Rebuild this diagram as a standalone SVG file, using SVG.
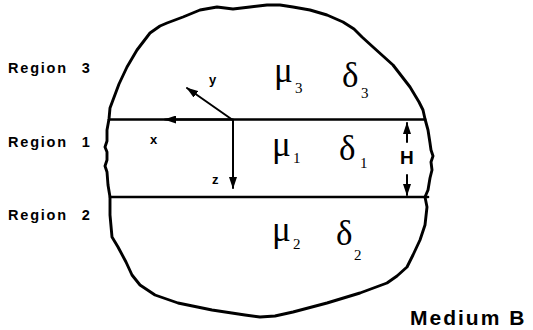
<svg xmlns="http://www.w3.org/2000/svg" width="533" height="330" viewBox="0 0 533 330">
<style>
.lbl{font-family:"Liberation Sans",Arial,sans-serif;font-weight:bold;fill:#000}
.reg{font-size:14.5px;letter-spacing:1.8px;word-spacing:8px}
.gk{font-family:"Liberation Serif","Times New Roman",serif;font-size:35px;fill:#000}
.sb{font-family:"Liberation Serif","Times New Roman",serif;font-size:15px;fill:#000}
.ln{fill:none;stroke:#000;stroke-linecap:round;stroke-linejoin:round}
</style>
<defs>
<marker id="ah" markerUnits="userSpaceOnUse" markerWidth="12" markerHeight="8" refX="11" refY="4" orient="auto">
<path d="M0,0 L12,4 L0,8 z" fill="#000"/>
</marker>
</defs>
<rect width="533" height="330" fill="#fff"/>
<g id="medium-outline">
<path class="ln" stroke-width="2.9" d="M109,119 L110,108 L113,100 L119,84 L127,67 L137,50 L150,33 L160,26 L167,23 L183,17 L200,10 L217,7 L233,9 L250,7 L267,5 L280,5 L293,7 L310,10 L327,15 L343,22 L354,29 L362,37 L373,47 L393,65 L410,87 L419,102 L423,110 L425,119 L428,130 L430,143 L431,150 L433,156 L431,162 L432,170 L430,178 L428,190 L425,197 L427,207 L425,225 L420,240 L413,255 L407,267 L397,276 L387,283 L360,293 L327,303 L293,312 L275,316 L260,317 L245,315 L212,310 L178,303 L155,295 L140,285 L132,275 L126,262 L118,247 L112,237 L110,215 L110,197 L108,185 L107,172 L105,166 L107,160 L107,152 L105,147 L107,141 L107,130 L109,119 Z"/>
<line class="ln" stroke-width="2.7" x1="109" y1="119.5" x2="425" y2="119.5"/>
<line class="ln" stroke-width="2.7" x1="110" y1="197" x2="428" y2="197"/>
</g>
<g id="connectors">
<line class="ln" stroke-width="2" x1="232" y1="119.5" x2="165" y2="119.5" marker-end="url(#ah)"/>
<line class="ln" stroke-width="2" x1="232" y1="119.5" x2="187" y2="88" marker-end="url(#ah)"/>
<line class="ln" stroke-width="2" x1="233" y1="119.5" x2="233" y2="188" marker-end="url(#ah)"/>
<line class="ln" stroke-width="2" x1="407" y1="142" x2="407" y2="123" marker-end="url(#ah)"/>
<line class="ln" stroke-width="2" x1="407" y1="175" x2="407" y2="195" marker-end="url(#ah)"/>
</g>
<g id="axis-labels">
<text class="lbl" font-size="13" x="209" y="84">y</text>
<text class="lbl" font-size="13" x="150" y="144">x</text>
<text class="lbl" font-size="13" x="212" y="184">z</text>
<text class="lbl" font-size="19" x="400" y="164">H</text>
</g>
<g id="region-3">
<text class="lbl reg" x="8" y="73">Region 3</text>
<text class="gk" x="274" y="82">μ</text><text class="sb" x="295" y="93">3</text>
<text class="gk" x="342" y="87">δ</text><text class="sb" x="361" y="98">3</text>
</g>
<g id="region-1">
<text class="lbl reg" x="8" y="147">Region 1</text>
<text class="gk" x="272" y="156">μ</text><text class="sb" x="293" y="163">1</text>
<text class="gk" x="339" y="160">δ</text><text class="sb" x="360" y="168">1</text>
</g>
<g id="region-2">
<text class="lbl reg" x="8" y="220">Region 2</text>
<text class="gk" x="272" y="241">μ</text><text class="sb" x="293" y="249">2</text>
<text class="gk" x="336" y="245">δ</text><text class="sb" x="354" y="260">2</text>
</g>
<g id="medium-label">
<text class="lbl" font-size="21" letter-spacing="2" x="410" y="325">Medium B</text>
</g>
</svg>
